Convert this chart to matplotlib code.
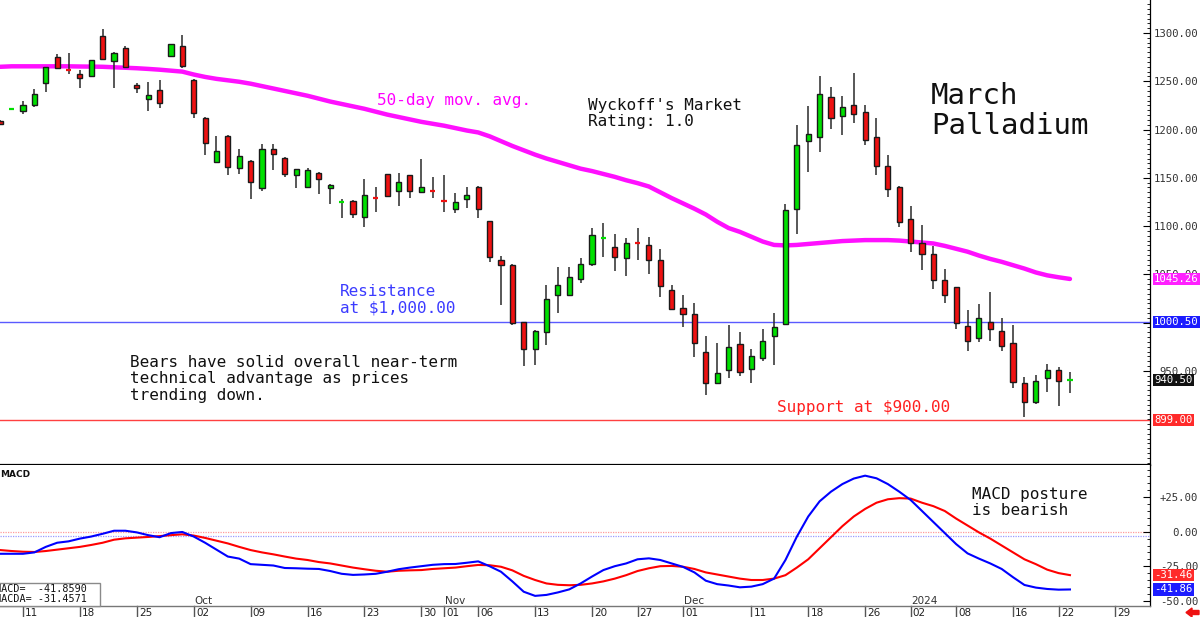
import matplotlib
matplotlib.use('Agg')
import matplotlib.pyplot as plt
import numpy as np
from matplotlib.transforms import blended_transform_factory
from matplotlib.ticker import MultipleLocator
from matplotlib.patches import Rectangle

# ---------------- data ----------------
opens = [1209, 1220.5, 1219, 1225.5, 1248.5, 1275, 1263, 1258, 1255, 1297,
         1271, 1284, 1246, 1232, 1240.5, 1276, 1286.5, 1251.5, 1212, 1166.5,
         1193.5, 1160, 1167.5, 1139.5, 1180, 1171, 1152.5, 1141, 1155.5, 1139,
         1124, 1125.5, 1109, 1130, 1153.5, 1136.5, 1152.5, 1135.5, 1137, 1126,
         1118, 1128.5, 1141, 1105, 1065, 1060, 1000.5, 972.5, 990.5, 1028.5,
         1028.5, 1045, 1060.5, 1087, 1078.5, 1066.5, 1082.5, 1080, 1065, 1034,
         1015, 1008.5, 969.5, 938, 950.5, 977.5, 951.5, 963, 986, 998.5,
         1117.5, 1188, 1192.5, 1233.5, 1214.5, 1225.5, 1218, 1192, 1162, 1141,
         1107.5, 1083, 1071.5, 1044, 1036.5, 997, 984, 1001, 991.5, 979,
         938, 918, 942.5, 950.5, 940]
highs = [1210, 1222, 1229.5, 1241.5, 1265, 1278, 1279, 1261.5, 1272, 1304.5,
         1280, 1286.5, 1248, 1249, 1251, 1288.5, 1298, 1252, 1212.5, 1193.5,
         1194, 1180, 1168, 1185, 1185, 1171.5, 1159, 1160.5, 1156.5, 1144,
         1128, 1127, 1149, 1140, 1154, 1155, 1153, 1169, 1151, 1153,
         1134, 1140.5, 1141.5, 1105.5, 1069.5, 1060.5, 1001, 992, 1038.5, 1058,
         1058, 1067, 1098.5, 1103.5, 1091.5, 1087.5, 1098.5, 1089, 1076.5, 1038.5,
         1028.5, 1020, 986, 978.5, 997.5, 990.5, 972.5, 993, 1010.5, 1122.5,
         1205, 1224.5, 1255, 1244, 1234.5, 1258.5, 1225.5, 1212, 1173.5, 1141.5,
         1121, 1101, 1079.5, 1055.5, 1037, 1013, 1019, 1032, 1005, 997.5,
         943.5, 946, 957, 954.5, 948.5]
lows = [1205, 1220, 1216, 1223.5, 1238.5, 1263, 1257.5, 1243.5, 1255, 1272.5,
        1243, 1264, 1238, 1219.5, 1222.5, 1276, 1263.5, 1211.5, 1173.5, 1166.5,
        1153, 1153.5, 1128.5, 1136, 1158, 1151, 1139, 1141, 1133.5, 1123,
        1108, 1108, 1099, 1115, 1130, 1121, 1129.5, 1135, 1129.5, 1114.5,
        1114, 1119, 1108.5, 1062.5, 1018.5, 997.5, 955.5, 956, 977, 1009.5,
        1028, 1041, 1059, 1068.5, 1054, 1048.5, 1065, 1050.5, 1027, 1013,
        995, 964.5, 925, 936.5, 942.5, 945, 938, 960.5, 956.5, 998,
        1091.5, 1156.5, 1176.5, 1201, 1194.5, 1206.5, 1184, 1153, 1130.5, 1099.5,
        1073.5, 1054.5, 1034.5, 1020, 993, 971, 979.5, 980.5, 971, 932.5,
        902.5, 915.5, 928.5, 914, 927.5]
closes = [1206, 1221, 1225, 1236.5, 1264.5, 1263.5, 1262, 1253.5, 1272, 1273,
          1279, 1264.5, 1243.5, 1236, 1227, 1288.5, 1266, 1217, 1186.5, 1178,
          1161, 1173, 1146, 1180, 1174.5, 1153.5, 1159, 1158, 1149, 1143,
          1124.5, 1112.5, 1132, 1129.5, 1131.5, 1146, 1136.5, 1141, 1136.5, 1125.5,
          1125, 1132, 1118, 1068, 1060, 999.5, 972.5, 991.5, 1024.5, 1038.5,
          1047, 1061, 1090.5, 1087.5, 1068.5, 1083, 1082, 1064.5, 1037.5, 1014,
          1009, 979, 938, 948, 974.5, 949, 965, 981.5, 996, 1116.5,
          1183.5, 1195, 1236.5, 1211.5, 1223.5, 1216.5, 1189.5, 1162.5, 1138, 1104.5,
          1082, 1071, 1044, 1028.5, 999.5, 981.5, 1004.5, 993, 975.5, 939,
          918, 939.5, 950.5, 940, 940.5]

ma50 = [1265, 1265.5, 1265.5, 1265.5, 1265.5, 1265.5, 1265.5, 1265.3, 1265.2, 1265,
        1264.5, 1264, 1263.5, 1262.8, 1262, 1261, 1260, 1257, 1254.5, 1252.5,
        1251, 1249.5, 1247.5, 1245, 1242.5, 1240, 1237.5, 1235, 1232, 1229,
        1226.5, 1224, 1221.5, 1218.5, 1215.5, 1213, 1210.5, 1208, 1206, 1204,
        1201.5, 1199, 1197, 1193, 1188, 1183, 1178.5, 1174, 1170, 1166.5,
        1163, 1159.5, 1157, 1154, 1151, 1147.5, 1144.5, 1141, 1135, 1129,
        1123.5, 1118, 1112, 1104.5, 1098, 1094, 1089, 1084, 1080.5, 1080,
        1080.5, 1081.5, 1082.5, 1083.5, 1084.5, 1085, 1085.5, 1085.5, 1085.5, 1085,
        1084, 1083, 1082, 1079.5, 1076.5, 1073.5, 1069.5, 1066, 1063, 1059.5,
        1056, 1052, 1049, 1047, 1045.26]

macd = [-16, -16, -16, -15, -11, -8, -7, -5, -3.5, -1.5,
        0.7, 0.7, -0.5, -2.5, -4, -1, -0.2, -3.5, -8, -13,
        -18, -19.5, -23.5, -24, -24.5, -26.3, -26.5, -26.8, -27, -28.5,
        -30.5, -31.3, -31, -30.5, -29, -27.2, -26, -25, -24, -23.5,
        -23.4, -22.5, -21.5, -25, -29, -36, -43.5, -46.5, -45.8, -44,
        -41.8, -37.5, -32.5, -27.8, -25, -23, -20, -19.3, -20.5, -23,
        -25.5, -29.5, -35.5, -38, -39, -40.3, -39.8, -38, -34, -20.5,
        -3.6, 11, 22, 29, 34.5, 38.5, 40.6, 38.7, 34.5, 29,
        23, 15, 7, -1, -9, -15.7, -19.5, -23, -27, -33,
        -38.6, -40.5, -41.5, -42, -41.86]
signal = [-13.3, -14, -14.5, -14.7, -14, -13, -12, -11, -9.6, -8,
          -5.8, -4.8, -4.3, -3.8, -3.2, -2.5, -1.9, -2.8, -4.5, -6.5,
          -8.5, -11, -13.3, -15, -16.4, -18, -19.5, -20.5, -22, -23,
          -24.5, -26, -27.2, -28.3, -29, -28.3, -28, -27.8, -27, -26.5,
          -26, -25, -24.1, -24.3, -25.4, -28, -32, -35, -37.5, -38.5,
          -38.8, -38.5, -37.5, -36, -34, -31.5, -28.5, -26.5, -25, -24.8,
          -25.4, -27, -29.5, -31, -32.5, -34, -35, -35, -34, -31.5,
          -26, -20, -12, -4, 4, 11, 16.5, 21, 23.5, 24.3,
          24, 21, 18.5, 15, 9.5, 4.5, -0.5, -5, -10, -15,
          -20, -23.5, -27.5, -30, -31.46]

date_tick_idx = [2, 7, 12, 17, 22, 27, 32, 37, 39, 42, 47, 52, 56, 60, 66, 71, 76, 80, 84, 89, 93, 98]
date_tick_lab = ['11', '18', '25', '02', '09', '16', '23', '30', '01', '06', '13', '20', '27', '01',
                 '11', '18', '26', '02', '08', '16', '22', '29']
month_idx = [17, 39, 60, 80]
month_lab = ['Oct', 'Nov', 'Dec', '2024']

price_ticks = [950, 1000, 1050, 1100, 1150, 1200, 1250, 1300]
macd_ticks = [-50, -25, 0, 25]

resistance = 1000.50
support = 899.00
last_close = 940.50
last_ma = 1045.26
last_macd = -41.86
last_signal = -31.46
macd_full = -41.8590
macda_full = -31.4571

# ---------------- layout ----------------
W, H = 1200, 617
X0, XPD = 0.24, 11.38
AXR = 1150
PB = 465
MT, MB = 465, 605.7
MONO = 'DejaVu Sans Mono'

def fx(px):
    return px / W

def fy(py):
    return 1 - py / H

fig = plt.figure(figsize=(12, 6.17), dpi=100, facecolor='white')
ax = fig.add_axes([0, fy(PB), fx(AXR), PB / H])
ax2 = fig.add_axes([0, fy(MB), fx(AXR), (MB - MT) / H])

xlim = ((0 - X0) / XPD, (AXR - X0) / XPD)
idx = np.arange(len(closes))

# ---------------- price panel ----------------
ax.set_xlim(*xlim)
ax.set_ylim(1300 - (PB - 33) / 0.9655, 1300 + 33 / 0.9655)

ax.axhline(resistance, color='#5a5aff', lw=1, zorder=1)
ax.axhline(support, color='#ff4040', lw=1, zorder=1)
ax.plot(idx, ma50, color='#ff10ff', lw=3.2, zorder=1.5, solid_capstyle='round')

ax.vlines(idx, lows, highs, colors='#2a2a2a', lw=1.1, zorder=2)
bw = 0.45
for i, (o, c) in enumerate(zip(opens, closes)):
    col = '#00e000' if c >= o else '#ee1111'
    if abs(c - o) <= 1.0:
        ax.hlines(c, i - bw / 2, i + bw / 2, colors=col, lw=1.6, zorder=3)
    else:
        ax.bar(i, abs(c - o), bottom=min(o, c), width=bw, color=col,
               edgecolor='#1a1a1a', linewidth=1.0, zorder=3)

ax.yaxis.tick_right()
ax.set_yticks(price_ticks)
ax.set_yticklabels([f'{v:.2f}' for v in price_ticks])
ax.yaxis.set_minor_locator(MultipleLocator(5))
ax.tick_params(axis='y', which='major', direction='in', length=5, width=0.8,
               pad=34.5, labelsize=7.7, labelcolor='#333333', labelfontfamily=MONO)
ax.tick_params(axis='y', which='minor', direction='in', length=2.5, width=0.6)
plt.setp(ax.yaxis.get_majorticklabels(), ha='right')
ax.set_xticks([])
for s in ['top', 'left']:
    ax.spines[s].set_visible(False)
ax.spines['bottom'].set_color('black')
ax.spines['bottom'].set_linewidth(1.6)
ax.spines['right'].set_linewidth(0.9)

ytr = ax.get_yaxis_transform()
for val, txt, fc in [(last_ma, f'{last_ma:.2f}', '#ff20ff'),
                     (resistance, f'{resistance:.2f}', '#1c1cff'),
                     (last_close, f'{last_close:.2f}', '#111111'),
                     (support, f'{support:.2f}', '#ff2a2a')]:
    ax.text(1154 / AXR, val, txt, transform=ytr, ha='left', va='center',
            fontsize=7.7, family=MONO, color='white', clip_on=False, zorder=10,
            bbox=dict(boxstyle='square,pad=0.12', fc=fc, ec='none'))

# annotations
def ftext(x, y, s, **kw):
    fig.text(fx(x), fy(y), s, ha='left', va='baseline', family=MONO, **kw)

ftext(377, 105, '50-day mov. avg.', fontsize=11.5, color='#ff00ff')
ftext(588, 110, "Wyckoff's Market", fontsize=11.5, color='#111111')
ftext(588, 126, 'Rating: 1.0', fontsize=11.5, color='#111111')
ftext(931, 104.3, 'March', fontsize=21, color='#111111')
ftext(931, 134, 'Palladium', fontsize=21, color='#111111')
ftext(340, 296, 'Resistance', fontsize=11.5, color='#3b3bff')
ftext(340, 312.3, 'at $1,000.00', fontsize=11.5, color='#3b3bff')
ftext(130, 366.7, 'Bears have solid overall near-term', fontsize=11.5, color='#111111')
ftext(130, 383.3, 'technical advantage as prices', fontsize=11.5, color='#111111')
ftext(130, 400, 'trending down.', fontsize=11.5, color='#111111')
ftext(777, 412.3, 'Support at $900.00', fontsize=11.5, color='#ff2020')
ftext(972, 499.3, 'MACD posture', fontsize=11.5, color='#111111')
ftext(972, 515, 'is bearish', fontsize=11.5, color='#111111')

# ---------------- MACD panel ----------------
ax2.set_xlim(*xlim)
ax2.set_ylim((531.7 - MB) * 0.7246, (531.7 - MT) * 0.7246)
ax2.axhline(0, color='#ff9a9a', lw=0.9, ls=(0, (1, 1)), zorder=1)
ax2.axhline(-3.3, color='#9a9aff', lw=0.9, ls=(0, (1, 1)), zorder=1)
ax2.plot(idx, signal, color='#ff0000', lw=1.5, zorder=3)
ax2.plot(idx, macd, color='#0000ff', lw=1.5, zorder=4)

ax2.yaxis.tick_right()
ax2.set_yticks(macd_ticks)
ax2.set_yticklabels([('+' if v > 0 else '') + f'{v:.2f}' for v in macd_ticks])
ax2.yaxis.set_minor_locator(MultipleLocator(5))
ax2.tick_params(axis='y', which='major', direction='in', length=5, width=0.8,
                pad=34.5, labelsize=7.7, labelcolor='#333333', labelfontfamily=MONO)
ax2.tick_params(axis='y', which='minor', direction='in', length=2.5, width=0.6)
plt.setp(ax2.yaxis.get_majorticklabels(), ha='right')
ax2.set_xticks([])
for s in ['top', 'left']:
    ax2.spines[s].set_visible(False)
ax2.spines['bottom'].set_color('#777777')
ax2.spines['bottom'].set_linewidth(1.0)
ax2.spines['right'].set_linewidth(0.9)

ytr2 = ax2.get_yaxis_transform()
for val, txt, fc in [(last_signal, f'{last_signal:.2f}', '#ff2a2a'),
                     (last_macd, f'{last_macd:.2f}', '#1c1cff')]:
    ax2.text(1154 / AXR, val, txt, transform=ytr2, ha='left', va='center',
             fontsize=7.7, family=MONO, color='white', clip_on=False, zorder=10,
             bbox=dict(boxstyle='square,pad=0.12', fc=fc, ec='none'))

ax2.text(0.0, 1 - (477 - MT) / (MB - MT), 'MACD', transform=ax2.transAxes,
         ha='left', va='baseline', fontsize=6.5, fontweight='bold', color='#111111')

# value box bottom-left
fig.add_artist(Rectangle((fx(-2), fy(MB)), fx(102), (MB - 583) / H, transform=fig.transFigure,
                         fc='white', ec='#8a8a8a', lw=1, zorder=5))
ftext(-5.3, 592, f'MACD=  {macd_full:.4f}', fontsize=7.3, color='#111111', zorder=6)
ftext(-5.3, 602, f'MACDA= {macda_full:.4f}', fontsize=7.3, color='#111111', zorder=6)

# date ticks
trb = blended_transform_factory(ax2.transData, fig.transFigure)
for d, lab in zip(date_tick_idx, date_tick_lab):
    ax2.plot([d, d], [fy(606), fy(617)], transform=trb, color='#555555', lw=1, clip_on=False)
    ax2.text(d + 2.2 / XPD, fy(608.3), lab, transform=trb, ha='left', va='top',
             fontsize=7.5, color='#222222', clip_on=False)
for d, lab in zip(month_idx, month_lab):
    ax2.text(d + 0.5 / XPD, fy(604.3), lab, transform=trb, ha='left', va='baseline',
             fontsize=7.5, color='#333333', clip_on=False)

# small red arrow bottom-right
fig.patches.append(matplotlib.patches.FancyArrow(fx(1199), fy(612.5), fx(1186) - fx(1199), 0,
                                                 width=4 / H, head_width=9 / H, head_length=fx(6),
                                                 length_includes_head=True, transform=fig.transFigure,
                                                 color='#ee1111'))

fig.savefig('out.png', dpi=100, facecolor='white')
